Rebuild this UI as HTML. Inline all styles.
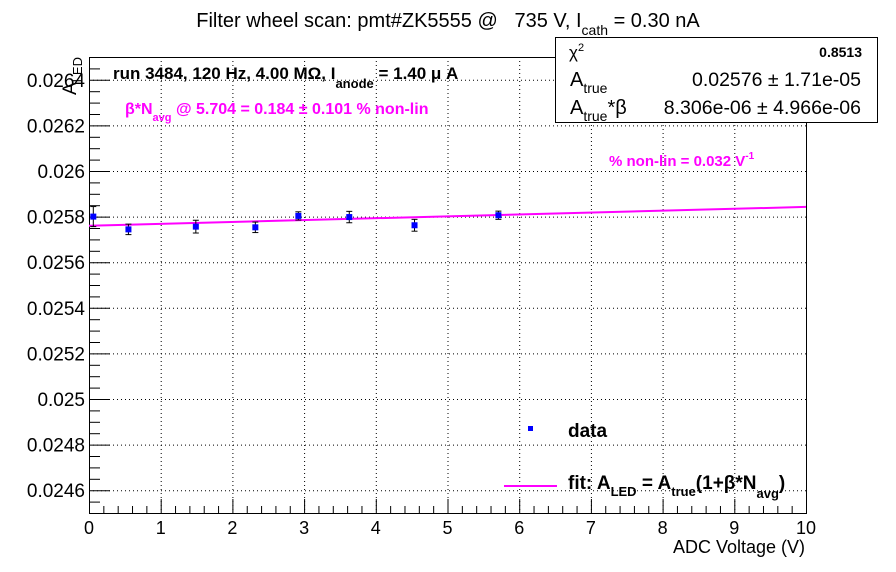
<!DOCTYPE html>
<html><head><meta charset="utf-8"><style>
body{margin:0;background:#fff;}
svg{display:block;font-family:"Liberation Sans",Arial,sans-serif;}
text{white-space:pre;}
</style></head><body>
<svg id="chart" width="896" height="572" viewBox="0 0 896 572" xmlns="http://www.w3.org/2000/svg">
<rect width="896" height="572" fill="#fff"/>
<g id="grid"></g>
<g id="axes"></g>
<g id="marks"></g>
<text x="448" y="27" font-size="20" text-anchor="middle" xml:space="preserve">Filter wheel scan: pmt#ZK5555 @   735 V, I<tspan font-size="14" dy="8">cath</tspan><tspan dy="-8"> = 0.30 nA</tspan></text>
<text x="113" y="79" font-size="17" font-weight="bold">run 3484, 120 Hz, 4.00 MΩ, I<tspan font-size="13" dy="9">anode</tspan><tspan dy="-9"> = 1.40 μ A</tspan></text>
<text x="125" y="114" font-size="16" font-weight="bold" fill="#ff00ff">β*N<tspan font-size="11" dy="7">avg</tspan><tspan dy="-7"> @ 5.704 = 0.184 ± 0.101 % non-lin</tspan></text>
<text x="609" y="166" font-size="15" font-weight="bold" fill="#ff00ff">% non-lin = 0.032 V<tspan font-size="10" dy="-7">-1</tspan></text>
<text transform="translate(76,95) rotate(-90)" font-size="19">A<tspan font-size="13" dy="6">LED</tspan></text>
<text x="805" y="553" font-size="18" text-anchor="end">ADC Voltage (V)</text>
<g>
<rect x="555.5" y="37.5" width="322" height="85" fill="#fff" stroke="#000" stroke-width="1"/>
<text x="569" y="58" font-size="17">χ<tspan font-size="11" dy="-7">2</tspan></text>
<text x="862" y="57" font-size="14" font-weight="bold" text-anchor="end">0.8513</text>
<text x="570" y="86" font-size="20">A<tspan font-size="14" dy="7">true</tspan></text>
<text x="861" y="86" font-size="19.5" text-anchor="end">0.02576 ± 1.71e-05</text>
<text x="570" y="114" font-size="20">A<tspan font-size="14" dy="7">true</tspan><tspan dy="-7">*β</tspan></text>
<text x="861" y="114" font-size="19.5" text-anchor="end">8.306e-06 ± 4.966e-06</text>
</g>
<g>
<rect x="528" y="426" width="5" height="5" fill="#0000ff"/>
<text x="568" y="437" font-size="19" font-weight="bold">data</text>
<line x1="504" y1="486" x2="557" y2="486" stroke="#ff00ff" stroke-width="2"/>
<text x="568" y="489" font-size="19" font-weight="bold">fit: A<tspan font-size="13" dy="7">LED</tspan><tspan dy="-7"> = A</tspan><tspan font-size="13" dy="7">true</tspan><tspan dy="-7">(1+β*N</tspan><tspan font-size="13" dy="9">avg</tspan><tspan dy="-9">)</tspan></text>
</g>
</svg>
<script>
const xVals=[0.06,0.55,1.49,2.32,2.92,3.63,4.54,5.71];
const yVals=[0.02580,0.025744,0.025756,0.025753,0.025803,0.025798,0.025762,0.025806];
const yErrs=[0.000044,0.000023,0.000028,0.000023,0.000018,0.000025,0.000026,0.000018];
const fitA=0.02576;
const fitRel=0.00032;
const xTicks=[0,1,2,3,4,5,6,7,8,9,10];
const yTicks=[0.0246,0.0248,0.025,0.0252,0.0254,0.0256,0.0258,0.026,0.0262,0.0264];
const yTickLabels=["0.0246","0.0248","0.025","0.0252","0.0254","0.0256","0.0258","0.026","0.0262","0.0264"];
const X0=89,X1=806,Y0=513,Y1=57,xmin=0,xmax=10,ymin=0.0245,ymax=0.0265;
const NS="http://www.w3.org/2000/svg";
const sx=v=>X0+(v-xmin)/(xmax-xmin)*(X1-X0);
const sy=v=>Y0-(v-ymin)/(ymax-ymin)*(Y0-Y1);
function mk(tag,attrs,parent){const e=document.createElementNS(NS,tag);for(const k in attrs)e.setAttribute(k,attrs[k]);parent.appendChild(e);return e;}
const grid=document.getElementById('grid'),axes=document.getElementById('axes'),marks=document.getElementById('marks');
xTicks.forEach(t=>{const x=sx(t)+0.5;
 const g=mk('line',{x1:x,y1:Y1,x2:x,y2:Y0,stroke:'#000','stroke-width':1,'stroke-dasharray':'1,3'},grid);
 
 
 const l=mk('text',{x:sx(t),y:Y0+21,'font-size':18,'text-anchor':'middle'},axes);l.textContent=t;
 
 });
yTicks.forEach((t,i)=>{const y=sy(t)+0.5;
 const g=mk('line',{x1:X0,y1:y,x2:X1,y2:y,stroke:'#000','stroke-width':1,'stroke-dasharray':'1,3'},grid);
 
 
 const l=mk('text',{x:X0-4,y:sy(t)+7,'font-size':19,'text-anchor':'end'},axes);l.textContent=yTickLabels[i];
 
 });
for(let k=0;k<=50;k++){const v=xmin+k*0.2,x=sx(v)+0.5,len=(k%5==0)?14:7;
 mk('line',{x1:x,y1:Y0,x2:x,y2:Y0-len,stroke:'#000'},axes);}
for(let k=0;k<=40;k++){const v=ymin+k*0.00005,y=sy(v)+0.5,len=(k%4==2)?21:11;
 mk('line',{x1:X0,y1:y,x2:X0+len,y2:y,stroke:'#000'},axes);}
const fr=mk('rect',{x:X0+0.5,y:Y1+0.5,width:X1-X0,height:Y0-Y1,fill:'none',stroke:'#000'},axes);


const fit=mk('line',{x1:sx(xmin),y1:sy(fitA*(1+fitRel*xmin)),x2:sx(xmax),y2:sy(fitA*(1+fitRel*xmax)),stroke:'#ff00ff','stroke-width':2},marks);


xVals.forEach((xv,i)=>{const x=sx(xv),y=sy(yVals[i]);
 const e=mk('line',{x1:x,y1:sy(yVals[i]+yErrs[i]),x2:x,y2:sy(yVals[i]-yErrs[i]),stroke:'#000'},marks);
 
 
 mk('line',{x1:x-3,y1:sy(yVals[i]+yErrs[i]),x2:x+3,y2:sy(yVals[i]+yErrs[i]),stroke:'#000'},marks);
 mk('line',{x1:x-3,y1:sy(yVals[i]-yErrs[i]),x2:x+3,y2:sy(yVals[i]-yErrs[i]),stroke:'#000'},marks);
 const p=mk('rect',{x:x-3,y:y-3,width:6,height:6,fill:'#0000ff'},marks);
 
 });
</script>
</body></html>
